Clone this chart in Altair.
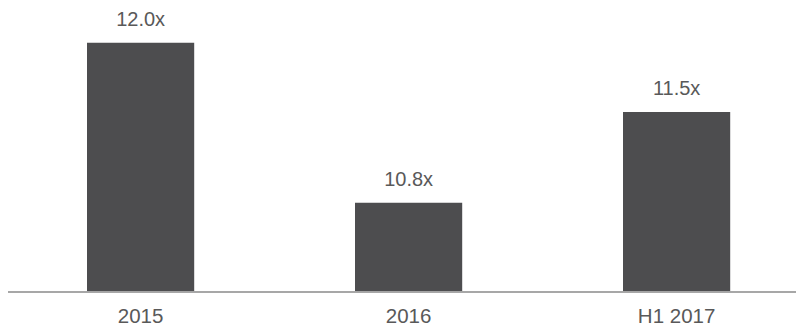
import altair as alt
import pandas as pd

categories = ["2015", "2016", "H1 2017"]
values = [12.0, 10.8, 11.48]
labels = ["12.0x", "10.8x", "11.5x"]
base = 10.13

df = pd.DataFrame({"cat": categories, "val": values, "label": labels})

FONT = "Liberation Sans"
W, H = 788, 318
xscale = alt.Scale(paddingInner=0.6, paddingOuter=0, range=[79, 722.2])
yscale = alt.Scale(domain=[base, 12.26], zero=False, nice=False, range=[284, 0])

x = alt.X("cat:N", sort=categories, scale=xscale,
          axis=alt.Axis(title=None, labelAngle=0, ticks=False, domain=False,
                        labelFont=FONT, labelFontSize=20.5, labelColor="#595959",
                        labelBaseline="alphabetic", labelPadding=30,
                        offset=-(H - 284)))
y = alt.Y("val:Q", scale=yscale, axis=None)

bars = alt.Chart(df).mark_bar(color="#4d4d4f").encode(
    x=x, y=y, y2=alt.datum(base))

text = alt.Chart(df).mark_text(font=FONT, fontSize=20, color="#595959",
                               baseline="alphabetic", dy=-16.8).encode(
    x=alt.X("cat:N", sort=categories, scale=xscale), y="val:Q", text="label:N")

axis_line = alt.Chart(df).mark_rule(color="#a6a6a6", strokeWidth=1.5).encode(
    y=alt.datum(base))

chart = alt.layer(bars, text, axis_line).properties(
    width=W, height=H, padding=0,
    autosize=alt.AutoSizeParams(type="none")
).configure(background="white").configure_view(stroke=None)

chart.save("out.html", embed_options={"renderer": "svg", "actions": False})
